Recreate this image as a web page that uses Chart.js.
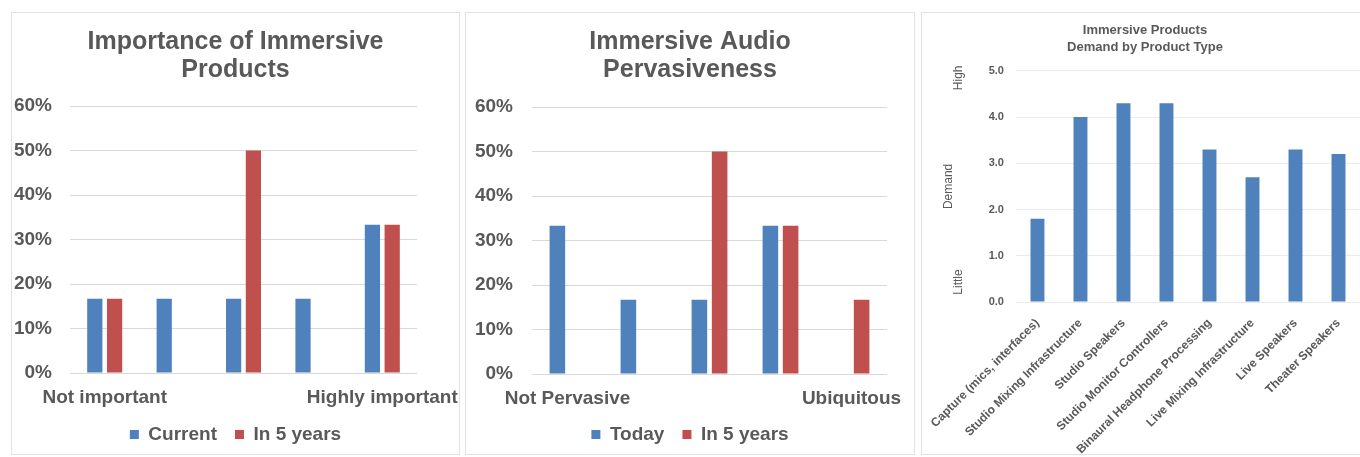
<!DOCTYPE html>
<html>
<head>
<meta charset="utf-8">
<script src="https://cdn.jsdelivr.net/npm/chart.js@4.4.1/dist/chart.umd.min.js"></script>
<style>
    body { margin: 0; width: 1360px; height: 457px; overflow: hidden; background: #fff; }
    .panel { position: absolute; top: 12px; height: 443px; border: 1px solid #e2e2e2; box-sizing: border-box; background: #fff; }
    #panel1 { left: 11px; width: 449px; }
    #panel2 { left: 465px; width: 450px; }
    #panel3 { left: 921px; width: 448px; }
    .panel canvas { display: block; }
</style>
</head>
<body>
<div class="panel" id="panel1"><canvas id="importanceChart"></canvas></div>
<div class="panel" id="panel2"><canvas id="pervasivenessChart"></canvas></div>
<div class="panel" id="panel3"><canvas id="demandChart"></canvas></div>

<script>
// chart data
const importanceLabels = ['Not important', '', '', '', 'Highly important'];
const importanceCurrent = [0.167, 0.167, 0.167, 0.167, 0.333];
const importanceIn5Years = [0.167, 0, 0.5, 0, 0.333];

const pervasivenessLabels = ['Not Pervasive', '', '', '', 'Ubiquitous'];
const pervasivenessToday = [0.333, 0.167, 0.167, 0.333, 0];
const pervasivenessIn5Years = [0, 0, 0.5, 0.333, 0.167];

const productTypes = [
    'Capture (mics, interfaces)',
    'Studio Mixing Infrastructure',
    'Studio Speakers',
    'Studio Monitor Controllers',
    'Binaural Headphone Processing',
    'Live Mixing Infrastructure',
    'Live Speakers',
    'Theater Speakers'
];
const productDemand = [1.8, 4.0, 4.3, 4.3, 3.3, 2.7, 3.3, 3.2];
const demandScaleEnds = ['Little', 'High'];

const BLUE = '#4f81bd';
const RED = '#c0504d';
const TEXT = '#595959';

Chart.defaults.font.family = "'Liberation Sans', Arial, sans-serif";
Chart.defaults.color = TEXT;
Chart.defaults.animation = false;

// shared setup for the two percent charts
function percentChart(canvasId, title, labels, seriesNames, seriesA, seriesB, layout) {
    const ctx = document.getElementById(canvasId).getContext('2d');
    return new Chart(ctx, {
        type: 'bar',
        data: {
            labels: labels,
            datasets: [
                { label: seriesNames[0], data: seriesA, backgroundColor: BLUE, borderWidth: 0 },
                { label: seriesNames[1], data: seriesB, backgroundColor: RED, borderWidth: 0 }
            ]
        },
        options: {
            responsive: true,
            maintainAspectRatio: false,
            categoryPercentage: 0.57,
            barPercentage: 0.77,
            layout: { padding: 0 },
            plugins: {
                title: {
                    display: true,
                    text: title,
                    color: TEXT,
                    font: { size: 25, weight: 'bold', lineHeight: 1.12 },
                    padding: { top: 15, bottom: layout.titleBottom }
                },
                legend: {
                    position: 'bottom',
                    labels: {
                        boxWidth: 9,
                        boxHeight: 9,
                        padding: 18,
                        color: TEXT,
                        font: { size: 19, weight: 'bold' }
                    }
                },
                tooltip: { enabled: false }
            },
            scales: {
                x: {
                    grid: { display: false, drawTicks: false },
                    border: { display: false },
                    ticks: {
                        autoSkip: false,
                        maxRotation: 0,
                        padding: layout.labelPad,
                        color: TEXT,
                        font: { size: 19, weight: 'bold', lineHeight: 1 }
                    },
                    afterFit: function (scale) {
                        scale.height = layout.xHeight;
                        scale.paddingRight = layout.right;
                    }
                },
                y: {
                    min: 0,
                    max: 0.6,
                    grid: { color: '#d9d9d9', drawTicks: false },
                    border: { display: false },
                    ticks: {
                        stepSize: 0.1,
                        padding: layout.tickPad,
                        color: TEXT,
                        font: { size: 19, weight: 'bold' },
                        callback: value => Math.round(value * 100) + '%'
                    },
                    afterFit: function (scale) {
                        scale.width = layout.yWidth;
                    }
                }
            }
        }
    });
}

// rotated "Little" / "High" next to the demand axis
const demandEndsPlugin = {
    id: 'demandEnds',
    afterDraw(chart) {
        const { ctx, chartArea, scales } = chart;
        const x = scales.y.left + 35;
        const spots = [chartArea.bottom - 20, chartArea.top + 7];
        ctx.save();
        ctx.font = "12px 'Liberation Sans', Arial, sans-serif";
        ctx.fillStyle = TEXT;
        ctx.textAlign = 'center';
        ctx.textBaseline = 'middle';
        demandScaleEnds.forEach((text, i) => {
            ctx.save();
            ctx.translate(x, spots[i]);
            ctx.rotate(-Math.PI / 2);
            ctx.fillText(text, 0, 0);
            ctx.restore();
        });
        ctx.restore();
    }
};

document.addEventListener('DOMContentLoaded', function () {
    percentChart('importanceChart', ['Importance of Immersive', 'Products'], importanceLabels,
        ['Current', 'In 5 years'], importanceCurrent, importanceIn5Years,
        { titleBottom: 22, xHeight: 34, right: 42, yWidth: 58, tickPad: 18, labelPad: 15 });

    percentChart('pervasivenessChart', ['Immersive Audio', 'Pervasiveness'], pervasivenessLabels,
        ['Today', 'In 5 years'], pervasivenessToday, pervasivenessIn5Years,
        { titleBottom: 23, xHeight: 33, right: 27, yWidth: 66, tickPad: 19, labelPad: 15 });

    const demandCtx = document.getElementById('demandChart').getContext('2d');
    new Chart(demandCtx, {
        type: 'bar',
        data: {
            labels: productTypes,
            datasets: [{ label: 'Demand', data: productDemand, backgroundColor: BLUE, borderWidth: 0 }]
        },
        options: {
            responsive: true,
            maintainAspectRatio: false,
            categoryPercentage: 0.36,
            barPercentage: 0.9,
            layout: { padding: 0 },
            plugins: {
                title: {
                    display: true,
                    text: ['Immersive Products', 'Demand by Product Type'],
                    color: TEXT,
                    font: { size: 13, weight: 'bold', lineHeight: 1.3 },
                    padding: { top: 9, bottom: 15 }
                },
                legend: { display: false },
                tooltip: { enabled: false }
            },
            scales: {
                x: {
                    grid: { display: false },
                    border: { display: false },
                    ticks: {
                        autoSkip: false,
                        minRotation: 45,
                        maxRotation: 45,
                        padding: 6,
                        color: TEXT,
                        font: { size: 12, weight: 'bold' }
                    },
                    afterFit: function (scale) {
                        scale.height = 152;
                        scale.paddingRight = 8;
                    }
                },
                y: {
                    min: 0,
                    max: 5,
                    grid: { color: '#ebebeb', drawTicks: false },
                    border: { display: false },
                    title: {
                        display: true,
                        text: 'Demand',
                        color: TEXT,
                        font: { size: 12 },
                        padding: { top: 18, bottom: 0 }
                    },
                    ticks: {
                        stepSize: 1,
                        padding: 12,
                        color: TEXT,
                        font: { size: 11, weight: 'bold' },
                        callback: value => value.toFixed(1)
                    },
                    afterFit: function (scale) {
                        scale.width = 92;
                    }
                }
            }
        },
        plugins: [demandEndsPlugin]
    });
});
</script>
</body>
</html>
